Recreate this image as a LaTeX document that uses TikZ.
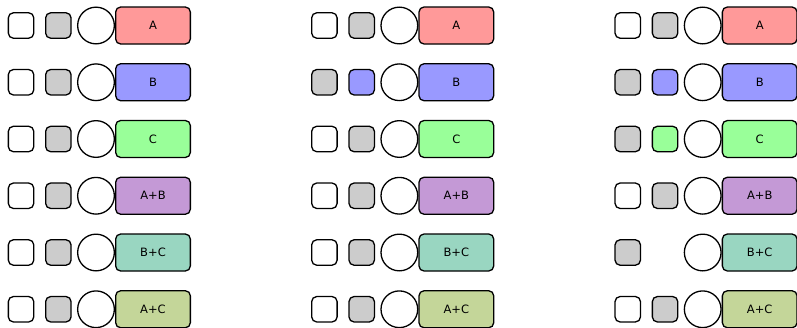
\documentclass[tikz,border=0pt]{standalone}
\usepackage{fontspec}
\setmainfont{DejaVu Sans}
\usepackage{xcolor}
\usetikzlibrary{positioning}

\definecolor{toneA}{HTML}{FF9999}
\definecolor{toneB}{HTML}{9999FF}
\definecolor{toneC}{HTML}{99FF99}
\definecolor{toneAB}{HTML}{C499D6}
\definecolor{toneBC}{HTML}{99D6C1}
\definecolor{toneAC}{HTML}{C4D699}
\definecolor{toneG}{HTML}{CCCCCC}

\begin{document}
\begin{tikzpicture}[
    x=1pt, y=-1pt,
    font=\fontsize{11.5}{13}\selectfont,
    line width=1.3pt,
    setbox/.style={draw, rounded corners=5pt, inner sep=0pt, minimum width=74.7pt, minimum height=37pt},
    ring/.style={draw, circle, inner sep=0pt, minimum size=36.7pt, fill=white},
    tile/.style={draw, rounded corners=5pt, inner sep=0pt, minimum size=25.4pt}
]
\useasboundingbox (0,0) rectangle (797,327);

% one set box and its ring for every column and row
\foreach \c in {0,1,2}
  \foreach \lab/\tone [count=\r] in {A/toneA, B/toneB, C/toneC, A+B/toneAB, B+C/toneBC, A+C/toneAC} {
    \node[setbox, fill=\tone] (s\c\r) at ({153+303.35*\c}, {25.5+56.75*(\r-1)}) {\lab};
    \node[ring, left=0pt of s\c\r] (o\c\r) {};
  }

% first tile
\foreach \c/\r/\tone in {0/1/white, 0/2/white, 0/3/white, 0/4/white, 0/5/white, 0/6/white,
                         1/1/white, 1/2/toneG, 1/3/white, 1/4/white, 1/5/white, 1/6/white,
                         2/1/white, 2/2/toneG, 2/3/toneG, 2/4/white, 2/5/toneG, 2/6/white}
  \node[tile, fill=\tone, left=42.6pt of o\c\r] (p\c\r) {};

% second tile
\foreach \c/\r/\tone in {0/1/toneG, 0/2/toneG, 0/3/toneG, 0/4/toneG, 0/5/toneG, 0/6/toneG,
                         1/1/toneG, 1/2/toneB, 1/3/toneG, 1/4/toneG, 1/5/toneG, 1/6/toneG,
                         2/1/toneG, 2/2/toneB, 2/3/toneC, 2/4/toneG, 2/6/toneG}
  \node[tile, fill=\tone, left=5.3pt of o\c\r] (q\c\r) {};
\end{tikzpicture}
\end{document}
